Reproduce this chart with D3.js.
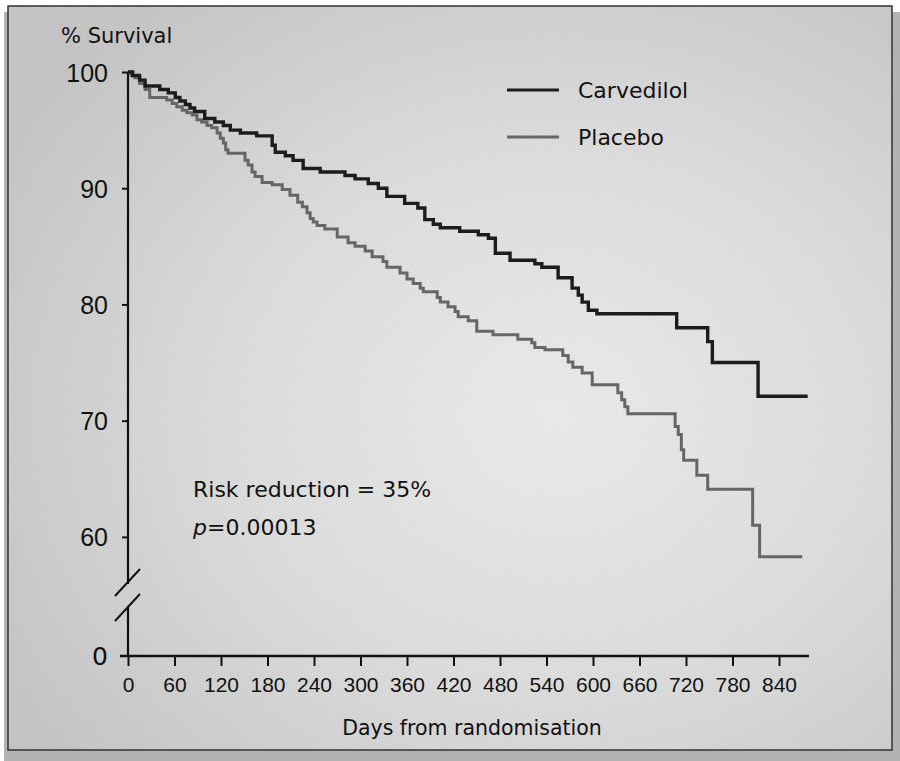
<!DOCTYPE html>
<html>
<head>
<meta charset="utf-8">
<script src="https://cdn.jsdelivr.net/npm/d3@7"></script>
<style>
  body { margin: 0; background: #fff; }
  svg { display: block; font-family: "DejaVu Sans", sans-serif; }
</style>
</head>
<body>
<svg></svg>
<script>
var width = 900;
var height = 761;

// survival curves (day of drop, % surviving after it)
var carvedilolDays = [0, 6, 15, 22, 41, 52, 61, 67, 74, 80, 86, 99, 112, 123, 132, 145, 166, 186, 190, 203, 213, 226, 248, 280, 293, 310, 323, 334, 357, 374, 383, 394, 403, 428, 452, 465, 474, 493, 525, 534, 555, 573, 581, 586, 594, 605, 708, 748, 754, 813, 877];
var carvedilolSurv = [100, 99.7, 99.3, 98.8, 98.5, 98.2, 97.8, 97.5, 97.2, 96.9, 96.6, 96.0, 95.7, 95.4, 95.0, 94.75, 94.5, 93.7, 93.1, 92.8, 92.4, 91.7, 91.4, 91.1, 90.8, 90.4, 90.0, 89.3, 88.7, 88.3, 87.3, 86.9, 86.6, 86.3, 86.0, 85.7, 84.4, 83.8, 83.5, 83.2, 82.3, 81.4, 80.8, 80.2, 79.5, 79.2, 78.0, 76.8, 75.0, 72.1, 72.1];

var placeboDays = [0, 4, 9, 15, 22, 28, 50, 57, 63, 70, 76, 83, 89, 95, 102, 108, 115, 119, 123, 126, 129, 151, 155, 160, 164, 173, 186, 199, 209, 219, 225, 231, 235, 239, 244, 254, 270, 284, 293, 306, 315, 329, 334, 351, 360, 368, 377, 381, 399, 403, 413, 422, 426, 439, 450, 471, 503, 521, 525, 538, 561, 568, 574, 586, 599, 632, 637, 641, 645, 706, 710, 714, 717, 734, 748, 806, 815, 870];
var placeboSurv = [100, 99.7, 99.5, 99.0, 98.5, 97.8, 97.6, 97.3, 97.0, 96.7, 96.5, 96.3, 95.9, 95.7, 95.4, 95.2, 94.75, 94.3, 93.9, 93.3, 93.0, 92.4, 92.0, 91.4, 91.0, 90.5, 90.3, 89.9, 89.4, 88.8, 88.4, 87.9, 87.4, 87.1, 86.8, 86.5, 85.8, 85.3, 85.0, 84.6, 84.1, 83.7, 83.2, 82.7, 82.2, 81.8, 81.4, 81.1, 80.6, 80.2, 79.8, 79.4, 78.95, 78.6, 77.7, 77.4, 77.0, 76.7, 76.3, 76.1, 75.6, 75.05, 74.6, 74.1, 73.1, 72.4, 71.8, 71.2, 70.6, 69.5, 68.8, 67.5, 66.6, 65.3, 64.1, 61.0, 58.3, 58.3];

var xTicks = [0, 60, 120, 180, 240, 300, 360, 420, 480, 540, 600, 660, 720, 780, 840];
var yTicks = [0, 60, 70, 80, 90, 100];
var seriesNames = ["Carvedilol", "Placebo"];
var seriesColors = ["#1c1c1c", "#666666"];

var svg = d3.select("svg").attr("width", width).attr("height", height);
var defs = svg.append("defs");

var grad = defs.append("radialGradient")
  .attr("id", "bg")
  .attr("cx", "62%").attr("cy", "55%").attr("r", "72%");
grad.append("stop").attr("offset", "0%").attr("stop-color", "#efefef");
grad.append("stop").attr("offset", "50%").attr("stop-color", "#e1e1e1");
grad.append("stop").attr("offset", "100%").attr("stop-color", "#c9c9c9");

// fine diagonal grain like the printed halftone
var pat = defs.append("pattern")
  .attr("id", "grain")
  .attr("width", 3).attr("height", 3)
  .attr("patternUnits", "userSpaceOnUse");
pat.append("path").attr("d", "M0,3 L3,0").attr("stroke", "#000").attr("stroke-opacity", 0.08).attr("stroke-width", 1);

// shadow + panel
svg.append("rect").attr("x", 4).attr("y", 12).attr("width", width - 4).attr("height", height - 12).attr("fill", "#b3b3b3");
svg.append("rect").attr("x", 8).attr("y", 6).attr("width", 884).attr("height", 744)
  .attr("fill", "url(#bg)").attr("stroke", "#333").attr("stroke-width", 1.5);
svg.append("rect").attr("x", 8).attr("y", 6).attr("width", 884).attr("height", 744).attr("fill", "url(#grain)");

var x = d3.scaleLinear().domain([0, 840]).range([128, 779]);
// broken axis: 0 sits below the break, 55..100 above it
var y = d3.scaleLinear().domain([0, 55, 100]).range([656, 595, 72]);

var g = svg.append("g");

// y axis
var yAxis = g.append("g")
  .attr("transform", "translate(128,0)")
  .call(d3.axisLeft(y).tickValues(yTicks.filter(function (d) { return d > 0; })).tickSize(6).tickPadding(14));
yAxis.select(".domain").remove();
yAxis.selectAll("line").attr("stroke", "#111").attr("stroke-width", 2);
yAxis.selectAll("text")
  .attr("fill", "#111")
  .style("font-size", "25px")
  .attr("dy", "0.36em");

// zero label below the break
g.append("text")
  .attr("x", 108).attr("y", y(0)).attr("dy", "0.36em")
  .attr("text-anchor", "end")
  .style("font-size", "25px").attr("fill", "#111")
  .text(yTicks[0]);

var yb = y(55);
g.append("line").attr("x1", 128).attr("x2", 128).attr("y1", y(100)).attr("y2", yb - 11)
  .attr("stroke", "#111").attr("stroke-width", 2.2);
g.append("line").attr("x1", 128).attr("x2", 128).attr("y1", yb + 11).attr("y2", y(0))
  .attr("stroke", "#111").attr("stroke-width", 2.2);
[-12, 13].forEach(function (o) {
  g.append("line")
    .attr("x1", 115).attr("y1", yb + o + 13)
    .attr("x2", 140).attr("y2", yb + o - 14)
    .attr("stroke", "#111").attr("stroke-width", 2);
});

// x axis
var xAxis = g.append("g")
  .attr("transform", "translate(0," + y(0) + ")")
  .call(d3.axisBottom(x).tickValues(xTicks).tickSize(10).tickPadding(11).tickFormat(d3.format("d")));
xAxis.select(".domain").remove();
xAxis.selectAll("line").attr("stroke", "#111").attr("stroke-width", 2);
xAxis.selectAll("text").attr("fill", "#111").style("font-size", "21px");
g.append("line").attr("x1", 120).attr("x2", 809).attr("y1", y(0)).attr("y2", y(0))
  .attr("stroke", "#111").attr("stroke-width", 2.4);

// axis titles
g.append("text").attr("x", 61).attr("y", 43).style("font-size", "21px").attr("fill", "#111").text("% Survival");
g.append("text").attr("x", 472).attr("y", 735).attr("text-anchor", "middle")
  .style("font-size", "20.5px").attr("fill", "#111").text("Days from randomisation");

// curves
var line = d3.line()
  .curve(d3.curveStepAfter)
  .x(function (d) { return x(d[0]); })
  .y(function (d) { return y(d[1]); });

var curves = [d3.zip(placeboDays, placeboSurv), d3.zip(carvedilolDays, carvedilolSurv)];
var curveColors = [seriesColors[1], seriesColors[0]];

g.selectAll(".km")
  .data(curves)
  .enter()
  .append("path")
  .attr("class", "km")
  .attr("d", line)
  .attr("fill", "none")
  .attr("stroke", function (d, i) { return curveColors[i]; })
  .attr("stroke-width", function (d, i) { return i ? 3.4 : 3; });

// legend
var legend = g.selectAll(".legend")
  .data(seriesNames)
  .enter()
  .append("g")
  .attr("class", "legend")
  .attr("transform", function (d, i) { return "translate(507," + (90 + i * 47) + ")"; });
legend.append("line")
  .attr("x1", 0).attr("x2", 52)
  .attr("stroke", function (d, i) { return seriesColors[i]; })
  .attr("stroke-width", 3.2);
legend.append("text")
  .attr("x", 71).attr("dy", "0.36em")
  .style("font-size", "22px").attr("fill", "#111")
  .text(function (d) { return d; });

// annotation
g.append("text").attr("x", 193).attr("y", 497).style("font-size", "22px").attr("fill", "#111")
  .text("Risk reduction = 35%");
var pv = g.append("text").attr("x", 193).attr("y", 535).style("font-size", "22px").attr("fill", "#111");
pv.append("tspan").style("font-style", "italic").text("p");
pv.append("tspan").text("=0.00013");
</script>
</body>
</html>
